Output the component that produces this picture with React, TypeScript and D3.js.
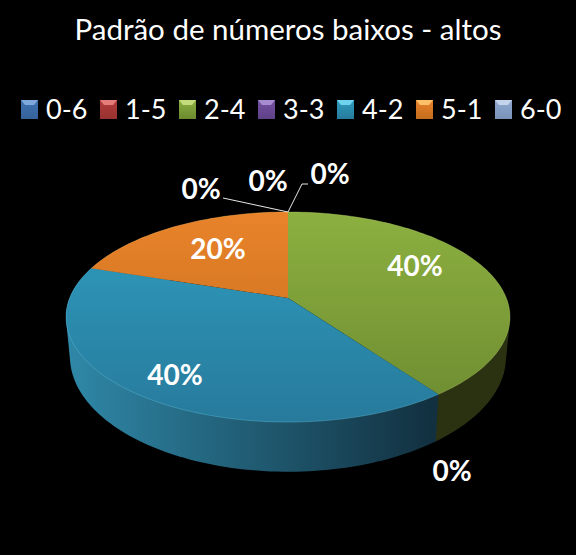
/**
 * Perspective 3D pie of low/high number patterns.
 */
import React from 'react';
import * as d3 from 'd3';

const categories = ['0-6', '1-5', '2-4', '3-3', '4-2', '5-1', '6-0'];
const shares = [0, 0, 40, 0, 40, 20, 0];
const colors = ['#3f72b0', '#b23c3a', '#8cb040', '#7350a0', '#2f9dbf', '#e8832a', '#8ea8d0'];
const lightColors = ['#7fa8dc', '#e47c7a', '#c4dc7c', '#a88cd0', '#70d4ee', '#fcc068', '#c4d4ec'];
const faceBottom = ['#36629a', '#983230', '#6c8a30', '#5f4288', '#277a9c', '#c46c1e', '#7a92b8'];
const wallLeft = ['#2a4c78', '#742a28', '#39441a', '#463264', '#2f88a8', '#8c5016', '#5e7090'];
const wallRight = ['#1c3452', '#501c1c', '#2a3212', '#2e2042', '#12303f', '#5e360e', '#3e4c64'];

const width = 576;
const height = 555;
const centerX = 288;
const centerY = 298;

const pie = d3.pie<number>().sort(null).value((d) => d);
const slices = pie(shares);

// Maps a point of the unit circle to the screen, nearer points get bigger
const project = (angle: number, bottom = false): [number, number] => {
  const u = Math.sin(angle);
  const v = -Math.cos(angle);
  const w = 1 - 0.181 * v;
  return bottom
    ? [centerX + (214.4 * u) / w, 336 + (111.2 * v) / w]
    : [centerX + (218.3 * u) / w, centerY + (101.6 * v) / w];
};

const line = d3.line();

const sampleAngles = (a0: number, a1: number) => {
  const n = Math.max(2, Math.ceil((a1 - a0) * 40));
  return d3.range(n + 1).map((i) => a0 + ((a1 - a0) * i) / n);
};

const topPath = (a0: number, a1: number) => {
  const rim = sampleAngles(a0, a1).map((a) => project(a));
  return line([[centerX, centerY], ...rim]) + 'Z';
};

// Hull of both rims, so the silhouette edge between them has no notch
const wallPath = (a0: number, a1: number) => {
  const angles = sampleAngles(a0, a1);
  const points = [...angles.map((a) => project(a)), ...angles.map((a) => project(a, true))];
  return line(d3.polygonHull(points) || []) + 'Z';
};

const rimPath = (a0: number, a1: number) =>
  line(sampleAngles(a0, a1).map((a) => project(a))) || '';

const legendX = d3.scaleLinear().domain([0, 6]).range([21, 495]);
const legendTextX = d3.scaleLinear().domain([0, 6]).range([46, 520]);

const percentLabels = [
  {text: '40%', x: 415, y: 276},
  {text: '40%', x: 175, y: 385},
  {text: '20%', x: 218, y: 259},
  {text: '0%', x: 201, y: 199},
  {text: '0%', x: 268, y: 191},
  {text: '0%', x: 330, y: 184},
  {text: '0%', x: 452, y: 481},
];

const font = 'Lato, "Open Sans", sans-serif';

export default function App() {
  const visible = slices.filter((s) => s.value > 0);
  return (
    <svg
      width={width}
      height={height}
      style={{position: 'absolute', left: 0, top: 0, display: 'block', background: '#000'}}
      fontFamily={font}>
      <defs>
        {slices.map((s, i) => (
          <React.Fragment key={i}>
            <linearGradient id={`face-${i}`} gradientUnits="userSpaceOnUse" x1="0" y1="212" x2="0" y2="422">
              <stop offset="0%" stopColor={colors[i]} />
              <stop offset="100%" stopColor={faceBottom[i]} />
            </linearGradient>
            <linearGradient id={`wall-${i}`} gradientUnits="userSpaceOnUse" x1="66" y1="0" x2="510" y2="0">
              <stop offset="0%" stopColor={wallLeft[i]} />
              <stop offset="83%" stopColor={wallRight[i]} />
            </linearGradient>
            <linearGradient id={`key-${i}`} x1="0" y1="0" x2="0" y2="1">
              <stop offset="0%" stopColor={colors[i]} />
              <stop offset="100%" stopColor={faceBottom[i]} />
            </linearGradient>
          </React.Fragment>
        ))}
      </defs>

      <rect width={width} height={height} fill="#000" />

      <text x={centerX} y={40} textAnchor="middle" fontSize={29.5} fill="#fff">
        Padrão de números baixos - altos
      </text>

      {/* Legend */}
      {categories.map((c, i) => {
        const x = legendX(i);
        return (
          <g key={c}>
            <rect x={x} y={100} width={17} height={19} fill={`url(#key-${i})`} />
            <path
              d={line([[x, 100], [x + 17, 100], [x + 13, 105], [x + 4, 105]]) + 'Z'}
              fill={lightColors[i]}
            />
            <text x={legendTextX(i)} y={119} fontSize={27} fill="#fff">
              {c}
            </text>
          </g>
        );
      })}

      {/* Walls first, top faces cover their hidden back part */}
      {visible.map((s) => (
        <path key={s.index} d={wallPath(s.startAngle, s.endAngle)} fill={`url(#wall-${s.index})`} />
      ))}
      {visible.map((s) => (
        <path key={s.index} d={topPath(s.startAngle, s.endAngle)} fill={`url(#face-${s.index})`} />
      ))}
      {visible.map((s) => (
        <path
          key={s.index}
          d={rimPath(s.startAngle, s.endAngle)}
          fill="none"
          stroke={lightColors[s.index]}
          strokeOpacity={0.3}
          strokeWidth={1}
        />
      ))}

      {/* Leader lines of the empty slices */}
      <path d={line([[223, 198], [288, 212]]) || ''} fill="none" stroke="#e8e8e8" strokeWidth={1} />
      <path d={line([[288, 212], [302, 184], [308, 184]]) || ''} fill="none" stroke="#e8e8e8" strokeWidth={1} />

      {percentLabels.map((l, i) => (
        <text key={i} x={l.x} y={l.y} textAnchor="middle" fontSize={28} fontWeight={700} fill="#fff">
          {l.text}
        </text>
      ))}
    </svg>
  );
}
